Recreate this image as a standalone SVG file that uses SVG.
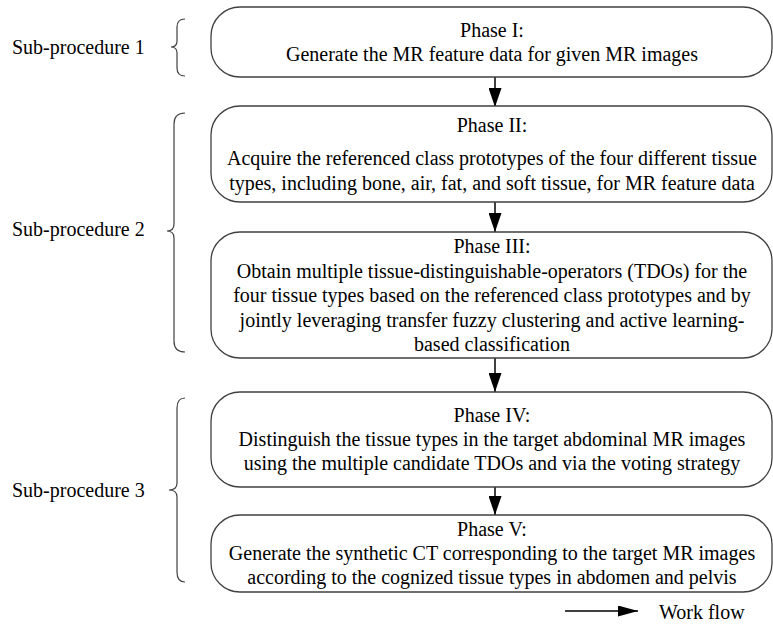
<svg xmlns="http://www.w3.org/2000/svg" width="773" height="627" viewBox="0 0 773 627">
<defs>
<style>
.box{fill:#fff;stroke:#404040;stroke-width:1.3}
.t{font-family:"Liberation Serif","Times New Roman",serif;font-size:20px;fill:#000}
.c{text-anchor:middle}
.brace{fill:none;stroke:#404040;stroke-width:1.2}
.ln{stroke:#000;stroke-width:1.5;fill:none}
</style>
<marker id="ahv" markerWidth="19" markerHeight="13" refX="19" refY="6.5" orient="auto" markerUnits="userSpaceOnUse" viewBox="0 0 19 13">
<path d="M0,0 L19,6.5 L0,13 Z" fill="#000"/>
</marker>
<marker id="ahh" markerWidth="20" markerHeight="11" refX="20" refY="5.5" orient="auto" markerUnits="userSpaceOnUse" viewBox="0 0 20 11">
<path d="M0,0 L20,5.5 L0,11 Z" fill="#000"/>
</marker>
</defs>
<rect width="773" height="627" fill="#fff"/>
<g id="labels">
<text class="t" x="12" y="54">Sub-procedure 1</text>
<text class="t" x="12" y="236">Sub-procedure 2</text>
<text class="t" x="12" y="497">Sub-procedure 3</text>
<path class="brace" d="M185,19 Q177,19 177,27 L177,41 Q177,47 171,47 Q177,47 177,53 L177,68 Q177,76 185,76"/>
<path class="brace" d="M185,113 Q174,113 174,124 L174,224 Q174,231 167,231 Q174,231 174,238 L174,341 Q174,352 185,352"/>
<path class="brace" d="M185,398 Q177,398 177,408 L177,483 Q177,490 169,490 Q177,490 177,497 L177,572 Q177,582 185,582"/>
</g>
<g id="connectors">
<line class="ln" x1="495" y1="77" x2="495" y2="107" marker-end="url(#ahv)"/>
<line class="ln" x1="495" y1="202" x2="495" y2="232" marker-end="url(#ahv)"/>
<line class="ln" x1="495" y1="358" x2="495" y2="392" marker-end="url(#ahv)"/>
<line class="ln" x1="495" y1="487" x2="495" y2="515" marker-end="url(#ahv)"/>
<line class="ln" x1="565" y1="611" x2="638" y2="611" marker-end="url(#ahh)"/>
</g>
<g id="phase1">
<rect class="box" x="211" y="7" width="561" height="70" rx="29" ry="29"/>
<text class="t c" x="492" y="37">Phase I:</text>
<text class="t c" x="492" y="61">Generate the MR feature data for given MR images</text>
</g>
<g id="phase2">
<rect class="box" x="211" y="106" width="561" height="96" rx="29" ry="29"/>
<text class="t c" x="492" y="132">Phase II:</text>
<text class="t c" x="492" y="165">Acquire the referenced class prototypes of the four different tissue</text>
<text class="t c" x="492" y="190">types, including bone, air, fat, and soft tissue, for MR feature data</text>
</g>
<g id="phase3">
<rect class="box" x="211" y="232" width="561" height="126" rx="29" ry="29"/>
<text class="t c" x="492" y="253">Phase III:</text>
<text class="t c" x="492" y="278">Obtain multiple tissue-distinguishable-operators (TDOs) for the</text>
<text class="t c" x="492" y="302">four tissue types based on the referenced class prototypes and by</text>
<text class="t c" x="492" y="327">jointly leveraging transfer fuzzy clustering and active learning-</text>
<text class="t c" x="492" y="351">based classification</text>
</g>
<g id="phase4">
<rect class="box" x="211" y="392" width="561" height="95" rx="29" ry="29"/>
<text class="t c" x="492" y="422">Phase IV:</text>
<text class="t c" x="492" y="446">Distinguish the tissue types in the target abdominal MR images</text>
<text class="t c" x="492" y="470">using the multiple candidate TDOs and via the voting strategy</text>
</g>
<g id="phase5">
<rect class="box" x="211" y="515" width="561" height="77" rx="29" ry="29"/>
<text class="t c" x="492" y="536">Phase V:</text>
<text class="t c" x="492" y="560">Generate the synthetic CT corresponding to the target MR images</text>
<text class="t c" x="492" y="584">according to the cognized tissue types in abdomen and pelvis</text>
</g>
<g id="legend">
<text class="t" x="659" y="619">Work flow</text>
</g>
</svg>
